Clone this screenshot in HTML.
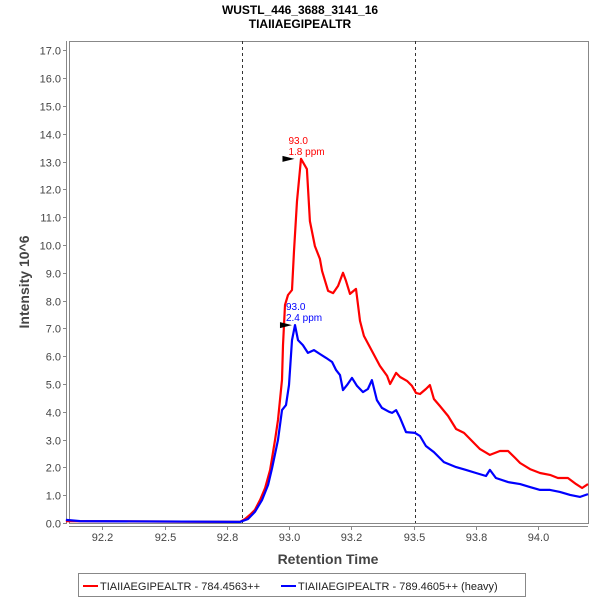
<!DOCTYPE html>
<html><head><meta charset="utf-8"><style>
body{margin:0;background:#fff;}
svg{font-family:"Liberation Sans",sans-serif;}
</style></head><body>
<svg width="600" height="600" viewBox="0 0 600 600">
<text x="300" y="14" text-anchor="middle" font-size="12" font-weight="bold">WUSTL_446_3688_3141_16</text>
<text x="300" y="28" text-anchor="middle" font-size="12" font-weight="bold">TIAIIAEGIPEALTR</text>
<g id="axes"></g>
<g id="plot"></g>
<text x="328" y="564" text-anchor="middle" font-size="14" font-weight="bold" fill="#444">Retention Time</text>
<text transform="translate(29,282) rotate(-90)" text-anchor="middle" font-size="14" font-weight="bold" fill="#444">Intensity 10^6</text>
<g>
<rect x="78.5" y="573.5" width="447" height="23" fill="#fff" stroke="#888"/>
<line x1="83" y1="586" x2="98" y2="586" stroke="#f00" stroke-width="2"/>
<text x="100" y="590" font-size="11" fill="#222">TIAIIAEGIPEALTR - 784.4563++</text>
<line x1="281" y1="586" x2="296" y2="586" stroke="#00f" stroke-width="2"/>
<text x="298" y="590" font-size="11" fill="#222">TIAIIAEGIPEALTR - 789.4605++ (heavy)</text>
</g>
</svg>
<script>
const xTicks=[92.25,92.5,92.75,93.0,93.25,93.5,93.75,94.0];
const xTickLabels=["92.2","92.5","92.8","93.0","93.2","93.5","93.8","94.0"];
const yTicks=[0,1,2,3,4,5,6,7,8,9,10,11,12,13,14,15,16,17];
const boundaries=[92.81,93.506];
const redTimes=[92.104,92.803,92.823,92.843,92.863,92.884,92.904,92.924,92.944,92.956,92.972,92.976,92.984,92.996,93.012,93.020,93.032,93.048,93.072,93.084,93.104,93.124,93.133,93.157,93.177,93.197,93.217,93.229,93.245,93.269,93.285,93.301,93.333,93.365,93.394,93.406,93.430,93.446,93.474,93.494,93.510,93.526,93.550,93.566,93.582,93.606,93.639,93.671,93.703,93.735,93.767,93.807,93.847,93.880,93.908,93.928,93.968,94.008,94.048,94.080,94.120,94.153,94.177,94.201];
const redValues=[0.07,0.04,0.14,0.29,0.47,0.83,1.26,1.91,3.0,3.71,5.15,6.4,7.84,8.2,8.38,9.78,11.58,13.1,12.73,10.86,9.96,9.5,9.06,8.35,8.27,8.53,9.0,8.71,8.24,8.42,7.27,6.73,6.19,5.65,5.29,5.0,5.4,5.25,5.11,4.93,4.68,4.64,4.82,4.96,4.46,4.21,3.85,3.38,3.24,2.95,2.66,2.45,2.59,2.59,2.34,2.16,1.94,1.80,1.73,1.62,1.62,1.40,1.26,1.40];
const blueTimes=[92.104,92.161,92.803,92.835,92.863,92.892,92.916,92.932,92.956,92.972,92.988,93.0,93.012,93.024,93.036,93.056,93.076,93.1,93.124,93.149,93.173,93.189,93.205,93.217,93.233,93.253,93.273,93.297,93.317,93.333,93.353,93.373,93.402,93.414,93.430,93.446,93.470,93.506,93.526,93.550,93.582,93.622,93.671,93.711,93.751,93.791,93.807,93.831,93.880,93.928,93.968,94.008,94.048,94.088,94.129,94.169,94.201];
const blueValues=[0.11,0.07,0.04,0.14,0.40,0.83,1.37,1.98,2.99,4.06,4.24,4.96,6.58,7.12,6.58,6.40,6.12,6.22,6.08,5.94,5.79,5.5,5.32,4.78,4.96,5.22,4.93,4.71,4.82,5.14,4.42,4.14,4.0,3.96,4.06,3.78,3.27,3.24,3.13,2.77,2.55,2.19,2.01,1.91,1.80,1.69,1.91,1.62,1.47,1.40,1.29,1.19,1.19,1.12,1.01,0.94,1.04];
const peakLabels=[{t:93.03,v:13.1,c:"#f00",a:"93.0",b:"1.8 ppm",n:"light"},{t:93.02,v:7.12,c:"#00f",a:"93.0",b:"2.4 ppm",n:"heavy"}];

const X0=69,X1=588,Y0=41,Y1=523;
const sx=t=>289+(t-93)*249;
const sy=v=>523-v*27.8;
const NS="http://www.w3.org/2000/svg";
function mk(tag,attrs,parent){const e=document.createElementNS(NS,tag);for(const k in attrs)e.setAttribute(k,attrs[k]);parent.appendChild(e);return e;}
const axes=document.getElementById('axes'),plot=document.getElementById('plot');
let r=mk('rect',{x:X0+.5,y:Y0+.5,width:X1-X0,height:Y1-Y0,fill:'#fff',stroke:'#888'},axes);


let l=mk('line',{x1:66.5,y1:Y0,x2:66.5,y2:Y1,stroke:'#888'},axes);


l=mk('line',{x1:X0,y1:526.5,x2:X1,y2:526.5,stroke:'#888'},axes);


yTicks.forEach(v=>{const y=Math.round(sy(v))+.5;
 mk('line',{x1:63,y1:y,x2:67,y2:y,stroke:'#888'},axes);
 const t=mk('text',{x:61,y:y+4,'text-anchor':'end','font-size':11,fill:'#444'},axes);t.textContent=v.toFixed(1);
 
 });
xTicks.forEach((v,i)=>{const x=Math.round(sx(v))+.5;
 mk('line',{x1:x,y1:526,x2:x,y2:530,stroke:'#888'},axes);
 const t=mk('text',{x:x,y:541,'text-anchor':'middle','font-size':11,fill:'#444'},axes);t.textContent=xTickLabels[i];
 
 });
boundaries.forEach(b=>{const x=Math.round(sx(b))+.5;
 const e=mk('line',{x1:x,y1:Y0,x2:x,y2:Y1,stroke:'#333','stroke-dasharray':'3,3'},plot);
 
 });
function series(ts,vs,c,n){const p=mk('polyline',{points:ts.map((t,i)=>sx(t).toFixed(1)+','+sy(vs[i]).toFixed(1)).join(' '),fill:'none',stroke:c,'stroke-width':2.2,'stroke-linejoin':'round'},plot);
 
 }
series(redTimes,redValues,'#f00','series-light');
series(blueTimes,blueValues,'#00f','series-heavy');
peakLabels.forEach(p=>{const x=sx(p.t),y=sy(p.v);
 const a=mk('polygon',{points:`${x-14},${y-3} ${x-2},${y} ${x-14},${y+3}`,fill:'#000'},plot);
 
 
 const t1=mk('text',{x:x-8,y:y-15,'font-size':10,fill:p.c},plot);t1.textContent=p.a;
 
 
 const t2=mk('text',{x:x-8,y:y-4,'font-size':10,fill:p.c},plot);t2.textContent=p.b;
 
 });
</script>
</body></html>
